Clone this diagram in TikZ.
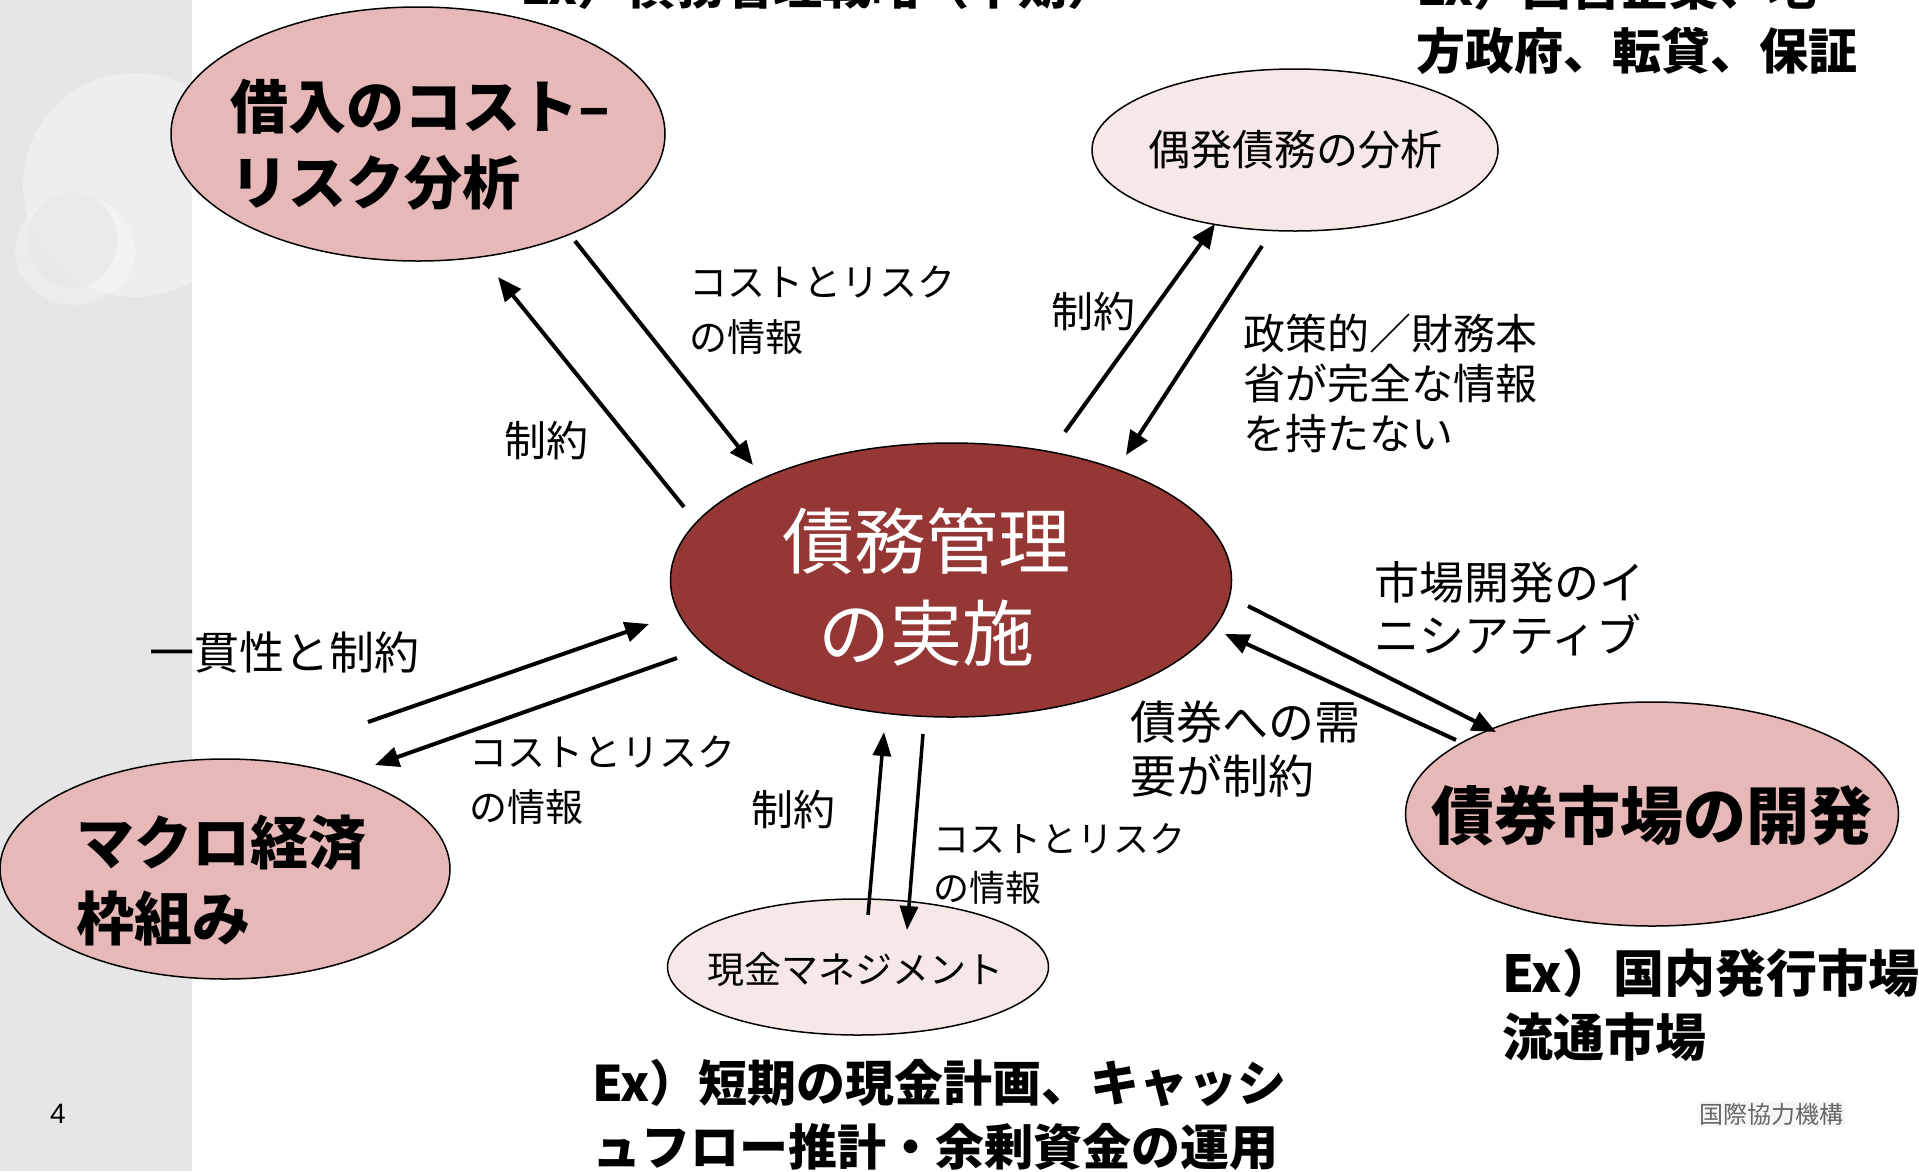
\documentclass[tikz,border=0pt]{standalone}
\usepackage{fontspec}
\newfontfamily\jp{Noto Sans CJK JP}
\newfontfamily\lsans{Liberation Sans}
\usetikzlibrary{shapes.geometric,arrows.meta}
\definecolor{pinkA}{HTML}{E6B8B7}
\definecolor{pinkL}{HTML}{F7E8E8}
\definecolor{darkred}{HTML}{953735}
\definecolor{panel}{HTML}{E6E6E8}
\definecolor{logogray}{HTML}{666666}
\begin{document}
\begin{tikzpicture}[x=1pt,y=-1pt,
  ell/.style={ellipse, draw=black, line width=1.5pt, inner sep=0pt},
  arr/.style={line width=4pt, -{Triangle[length=24pt,width=20pt]}},
  arrthin/.style={line width=3.5pt, -{Triangle[length=24pt,width=18pt]}},
  lab/.style={font=\jp\fontsize{42pt}{52pt}\selectfont, align=left, inner sep=0pt, anchor=west},
  labs/.style={font=\jp\fontsize{38pt}{55pt}\selectfont, align=left, inner sep=0pt, anchor=west},
  labc/.style={font=\jp\fontsize{42pt}{52pt}\selectfont, inner sep=0pt},
  bigbold/.style={font=\jp\bfseries\fontsize{58pt}{76pt}\selectfont, align=left, inner sep=0pt},
  extext/.style={font=\jp\bfseries\fontsize{49pt}{64pt}\selectfont, align=left, inner sep=0pt, anchor=west}
]
\useasboundingbox (0,0) rectangle (1919,1171);
\fill[white] (0,0) rectangle (1919,1171);
% left panel
\fill[panel] (0,0) rectangle (192,1171);
\begin{scope}
  \clip (0,0) rectangle (192,1171);
  \fill[white, opacity=0.35] (135,185) circle (112);
  \fill[white, opacity=0.25] (75,250) ellipse (60 and 55);
  \fill[panel, opacity=0.6] (72,240) ellipse (45 and 48);
\end{scope}

% ellipses
\node[ell, fill=pinkA, minimum width=494pt, minimum height=254pt] (tl) at (418,134) {};
\node[ell, fill=pinkL, minimum width=406pt, minimum height=162pt] (ct) at (1295,150) {};
\node[ell, fill=darkred, minimum width=561pt, minimum height=274pt] (main) at (951,580) {};
\node[ell, fill=pinkA, minimum width=450pt, minimum height=220pt] (mac) at (225,869) {};
\node[ell, fill=pinkL, minimum width=381pt, minimum height=136pt] (cash) at (858,967) {};
\node[ell, fill=pinkA, minimum width=493pt, minimum height=224pt] (bond) at (1652,814) {};

% ellipse texts
\node[bigbold] (tlt) at (420,145) {借入のコスト–\\リスク分析};
\node[labc] (ctt) at (1295,150) {偶発債務の分析};
\node[font=\jp\fontsize{72pt}{92pt}\selectfont, text=white, align=center, inner sep=0pt] (maint) at (926,587) {債務管理\\の実施};
\node[bigbold] (mact) at (221,880) {マクロ経済\\枠組み};
\node[font=\jp\fontsize{37pt}{46pt}\selectfont, inner sep=0pt] (casht) at (855,970) {現金マネジメント};
\node[font=\jp\bfseries\fontsize{63pt}{76pt}\selectfont, inner sep=0pt] (bondt) at (1652,816) {債券市場の開発};

% arrow end points
\coordinate (a1s) at (684,507); \coordinate (a1e) at (498,277);
\coordinate (a2s) at (575,241); \coordinate (a2e) at (753,465);
\coordinate (a3s) at (1065,432); \coordinate (a3e) at (1215,224);
\coordinate (a4s) at (1262,246); \coordinate (a4e) at (1126,455);
\coordinate (a5s) at (1248,606); \coordinate (a5e) at (1496,732);
\coordinate (a6s) at (1456,740); \coordinate (a6e) at (1225,634);
\coordinate (a7s) at (368,722); \coordinate (a7e) at (649,624);
\coordinate (a8s) at (677,658); \coordinate (a8e) at (375,765);
\coordinate (a9s) at (868,915); \coordinate (a9e) at (884,732);
\coordinate (a10s) at (923,734); \coordinate (a10e) at (907,930);

\draw[arr] (a1s) -- (a1e);
\draw[arr] (a2s) -- (a2e);
\draw[arr] (a3s) -- (a3e);
\draw[arr] (a4s) -- (a4e);
\draw[arr] (a5s) -- (a5e);
\draw[arr] (a6s) -- (a6e);
\draw[arr] (a7s) -- (a7e);
\draw[arr] (a8s) -- (a8e);
\draw[arrthin] (a9s) -- (a9e);
\draw[arrthin] (a10s) -- (a10e);

% arrow labels
\node[labs] (l1) at (689,310) {コストとリスク\\の情報};
\node[labc] (l2) at (546,441) {制約};
\node[labc] (l3) at (1093,312) {制約};
\node[lab, font=\jp\fontsize{42pt}{50pt}\selectfont] (l4) at (1243,383) {政策的／財務本\\省が完全な情報\\を持たない};
\node[lab, font=\jp\fontsize{45pt}{53pt}\selectfont] (l5) at (1374,609) {市場開発のイ\\ニシアティブ};
\node[lab, font=\jp\fontsize{46pt}{54pt}\selectfont] (l6) at (1130,749) {債券への需\\要が制約};
\node[lab, font=\jp\fontsize{45pt}{52pt}\selectfont] (l7) at (149,652) {一貫性と制約};
\node[labs] (l8) at (469,780) {コストとリスク\\の情報};
\node[labc] (l9) at (793,810) {制約};
\node[lab, font=\jp\fontsize{36pt}{49pt}\selectfont] (l10) at (933,864) {コストとリスク\\の情報};

% example texts
\node[extext] (ex1) at (520,-14) {Ex）債務管理戦略（中期）};
\node[extext] (ex2) at (1416,19) {Ex）国営企業、地\\方政府、転貸、保証};
\node[extext] (ex3) at (592,1115) {Ex）短期の現金計画、キャッシ\\ュフロー推計・余剰資金の運用};
\node[extext, font=\jp\bfseries\fontsize{51pt}{64pt}\selectfont] (ex4) at (1502,1005) {Ex）国内発行市場\\流通市場};

% footer
\node[font=\lsans\fontsize{28pt}{32pt}\selectfont, inner sep=0pt] (pg) at (58,1114) {4};
\node[font=\jp\fontsize{24pt}{28pt}\selectfont, text=logogray, fill=gray!6, inner sep=2pt] (logo) at (1771,1114) {国際協力機構};
\end{tikzpicture}
\end{document}
